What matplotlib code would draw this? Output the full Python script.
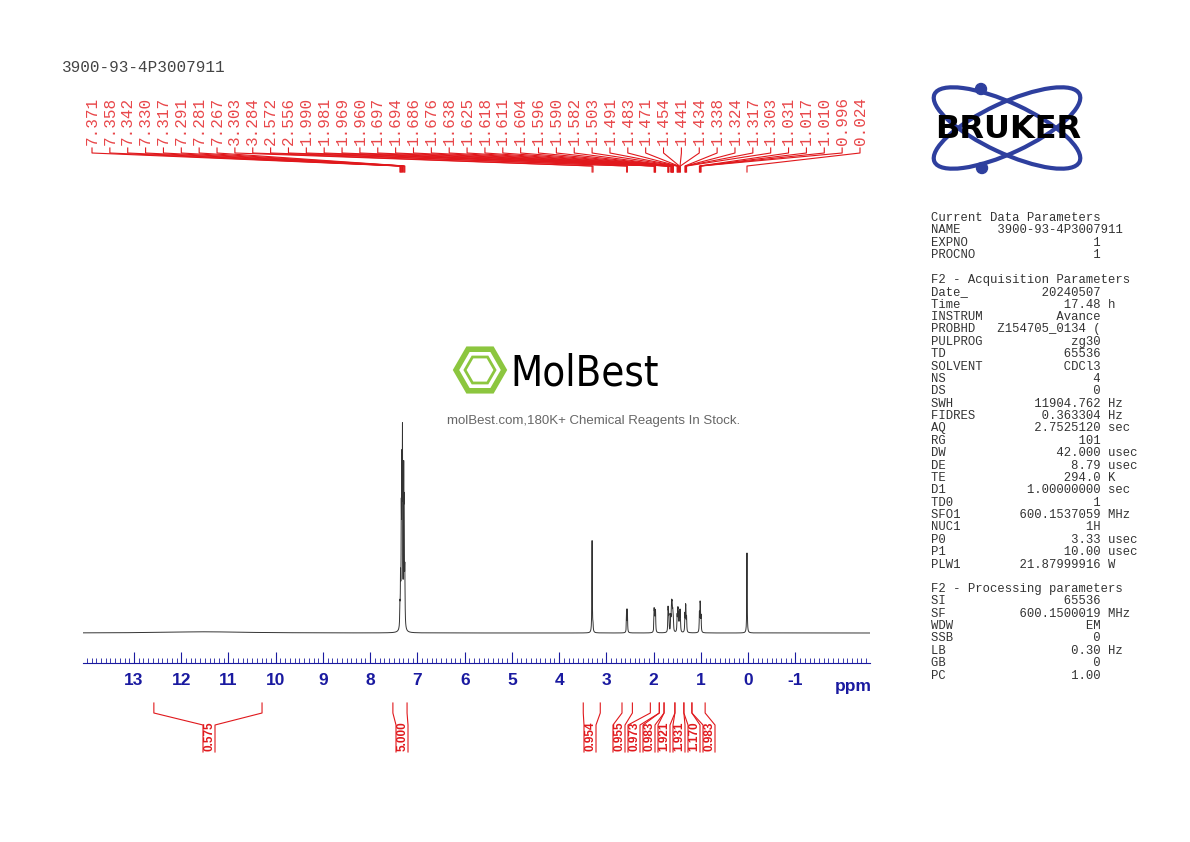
import numpy as np
import matplotlib
matplotlib.use("Agg")
import matplotlib.pyplot as plt
from matplotlib.patches import Ellipse, Circle, RegularPolygon

# ---------------- data ----------------
peak_labels = [7.371, 7.358, 7.342, 7.330, 7.317, 7.291, 7.281, 7.267, 3.303, 3.284,
               2.572, 2.556, 1.990, 1.981, 1.969, 1.960, 1.697, 1.694, 1.686, 1.676,
               1.638, 1.625, 1.618, 1.611, 1.604, 1.596, 1.590, 1.582, 1.503, 1.491,
               1.483, 1.471, 1.454, 1.441, 1.434, 1.338, 1.324, 1.317, 1.303, 1.031,
               1.017, 1.010, 0.996, 0.024]
peak_heights = [20, 45, 100, 140, 180, 140, 100, 50, 92, 6,
                22, 22, 20, 16, 16, 18, 12, 12, 15, 14,
                14, 18, 18, 17, 15, 12, 11, 10, 15, 17,
                17, 15, 18, 16, 13, 17, 20, 18, 14, 18,
                22, 20, 15, 80]
broad_pos = [11.5]
broad_height = [1.2]

integral_ranges = [(12.58, 10.29), (7.52, 7.22), (3.49, 3.13), (2.67, 2.45), (2.07, 1.88),
                   (1.88, 1.78), (1.78, 1.55), (1.55, 1.36), (1.36, 1.19), (1.19, 0.91)]
integral_values = ["0.575", "5.000", "0.954", "0.955", "0.973", "0.983", "1.921", "1.931", "1.170", "0.983"]
integral_label_px = [209, 402, 590, 619, 634, 649, 664, 679, 694, 709]

major_ticks = list(range(13, -2, -1))
major_tick_labels = [str(t) if t >= 0 else "-" + str(-t) for t in major_ticks]
title = "3900-93-4P3007911"

params_block1 = [("Current Data Parameters", None, None),
                 ("NAME", "3900-93-4P3007911", None), ("EXPNO", "1", None), ("PROCNO", "1", None)]
params_block2 = [("F2 - Acquisition Parameters", None, None),
                 ("Date_", "20240507", None), ("Time", "17.48", "h"), ("INSTRUM", "Avance", None),
                 ("PROBHD", "Z154705_0134 (", None), ("PULPROG", "zg30", None), ("TD", "65536", None),
                 ("SOLVENT", "CDCl3", None), ("NS", "4", None), ("DS", "0", None),
                 ("SWH", "11904.762", "Hz"), ("FIDRES", "0.363304", "Hz"), ("AQ", "2.7525120", "sec"),
                 ("RG", "101", None), ("DW", "42.000", "usec"), ("DE", "8.79", "usec"),
                 ("TE", "294.0", "K"), ("D1", "1.00000000", "sec"), ("TD0", "1", None),
                 ("SFO1", "600.1537059", "MHz"), ("NUC1", "1H", None), ("P0", "3.33", "usec"),
                 ("P1", "10.00", "usec"), ("PLW1", "21.87999916", "W")]
params_block3 = [("F2 - Processing parameters", None, None),
                 ("SI", "65536", None), ("SF", "600.1500019", "MHz"), ("WDW", "EM", None),
                 ("SSB", "0", None), ("LB", "0.30", "Hz"), ("GB", "0", None), ("PC", "1.00", None)]

# ---------------- figure ----------------
W, H = 1190, 842
fig = plt.figure(figsize=(W / 100, H / 100), dpi=100)
X0, X1 = 83, 870
AX_TOP, AX_BOT = 400, 663
ax = fig.add_axes([X0 / W, 1 - AX_BOT / H, (X1 - X0) / W, (AX_BOT - AX_TOP) / H])
ppm_left, ppm_right = 14.08, -2.58
ax.set_xlim(ppm_left, ppm_right)
BASE = 30
ax.set_ylim(0, AX_BOT - AX_TOP)

x = np.linspace(ppm_right, ppm_left, 80000)
y = np.full_like(x, BASE, dtype=float)
w = 0.005
for p, h in zip(peak_labels, peak_heights):
    y += h * w**2 / ((x - p) ** 2 + w**2)
for p, h in zip(broad_pos, broad_height):
    y += h * 1.0 / ((x - p) ** 2 + 1.0)
ax.plot(x, y, color="#333333", lw=0.7)

for s in ["top", "left", "right"]:
    ax.spines[s].set_visible(False)
ax.spines["bottom"].set_color("#1a1aa0")
ax.set_yticks([])
ax.set_xticks(major_ticks)
ax.set_xticklabels(major_tick_labels)
ax.set_xticks(np.round(np.arange(-2.5, 14.05, 0.1), 2), minor=True)
ax.tick_params(axis="x", which="major", direction="in", length=8, color="#1a1aa0",
               labelcolor="#1a1aa0", labelsize=12.5, pad=7)
ax.tick_params(axis="x", which="minor", direction="in", length=3.5, color="#1a1aa0")
for lab in ax.get_xticklabels():
    lab.set_fontweight("bold")
    lab.set_family("Liberation Sans")
fig.text(853 / W, 1 - 686 / H, "ppm", color="#1a1aa0", fontsize=12.5, fontweight="bold",
         ha="center", va="center", family="Liberation Sans")

ov = fig.add_axes([0, 0, 1, 1], zorder=5)
ov.set_xlim(0, W); ov.set_ylim(H, 0); ov.axis("off"); ov.patch.set_alpha(0)

def ppx(ppm):
    return ax.transData.transform((ppm, 0))[0]

RED = "#e0181c"
n = len(peak_labels)
lab_x = np.linspace(92, 860, n)
for lx, p in zip(lab_x, peak_labels):
    ov.text(lx, 145, f"{p:.3f}", rotation=90, ha="center", va="bottom", color="#e8474a",
            family="Liberation Mono", fontsize=11.5)
    px = ppx(p)
    ov.plot([lx, lx, px, px], [148, 153, 166, 172], color=RED, lw=0.8)

for (a, b), v, lx in zip(integral_ranges, integral_values, integral_label_px):
    pa, pb = ppx(a), ppx(b)
    ov.plot([pa, pa, lx - 6, lx - 6], [703, 713, 725, 752], color=RED, lw=0.8)
    ov.plot([pb, pb, lx + 6, lx + 6], [703, 713, 725, 752], color=RED, lw=0.8)
    ov.text(lx + 0.5, 751, v, rotation=90, ha="center", va="bottom", color=RED,
            family="Liberation Sans", fontsize=8.5, fontweight="bold")

ov.text(62, 68, title, family="Liberation Mono", fontsize=11.5, color="#444444", va="center")

def fmt(label, val, unit):
    if val is None:
        return label
    s = label.ljust(8) + val.rjust(15 if len(val) <= 15 else 18)
    if unit:
        s += " " + unit
    return s

ystart = [218, 280, 589]
for y0, block in zip(ystart, [params_block1, params_block2, params_block3]):
    for i, (l, v, u) in enumerate(block):
        ov.text(931, y0 + i * 12.37, fmt(l, v, u), family="Liberation Mono", fontsize=8.8,
                color="#333333", va="center")

BLUE = "#2e3f9e"
ov.add_patch(Ellipse((1007, 128), 160, 50, angle=25, fill=False, ec=BLUE, lw=3))
ov.add_patch(Ellipse((1007, 128), 160, 50, angle=-25, fill=False, ec=BLUE, lw=3))
ov.add_patch(Circle((981, 89), 5.5, color=BLUE))
ov.add_patch(Circle((982, 168), 5.5, color=BLUE))
ov.text(1008, 130, "BRUKER", ha="center", va="center", fontsize=23, fontweight="heavy",
        family="DejaVu Sans", color="black")

GREEN = "#8cc63f"
ov.add_patch(RegularPolygon((480, 370), 6, radius=24, orientation=np.pi / 6, fill=False,
                            ec=GREEN, lw=4))
ov.add_patch(RegularPolygon((480, 370), 6, radius=15, orientation=np.pi / 6, fill=False,
                            ec=GREEN, lw=2))
ov.text(510, 373, "MolBest", fontsize=30, family="DejaVu Sans", fontstretch="condensed",
        va="center", ha="left", color="black")
ov.text(594, 421, "molBest.com,180K+ Chemical Reagents In Stock.", fontsize=9.5,
        family="Liberation Sans", color="#666666", ha="center", va="center")

fig.savefig("out.png", dpi=100, facecolor="white")
